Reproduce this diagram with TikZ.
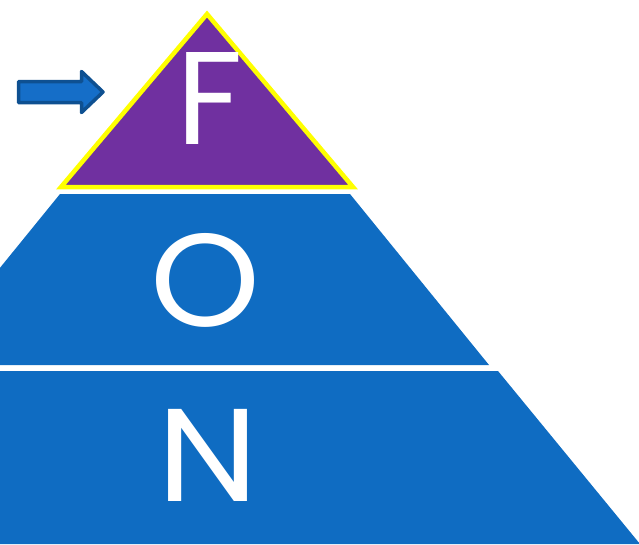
\documentclass[tikz,border=0pt]{standalone}
\usepackage{fontspec}
\newfontfamily\letterfont{Poppins}
\definecolor{layerblue}{RGB}{15, 108, 194}
\definecolor{toppurple}{RGB}{112, 48, 160}
\definecolor{edgeyellow}{RGB}{255, 255, 0}
\definecolor{arrowfill}{RGB}{21, 110, 200}
\definecolor{arrowedge}{RGB}{14, 80, 145}
\usetikzlibrary{positioning}

\begin{document}
\begin{tikzpicture}[
  x=1pt, y=-1pt,
  layer/.style={fill=layerblue, draw=none},
  toplayer/.style={fill=toppurple, draw=edgeyellow, line width=4.5pt, line join=miter},
  pointer/.style={fill=arrowfill, draw=arrowedge, line width=3.5pt, line join=round},
  letter/.style={text=white, font=\letterfont\fontsize{132}{132}\selectfont, inner sep=0pt, transform shape}
]
  \useasboundingbox (0,0) rectangle (639,544);
  \clip (0,0) rectangle (639,544);
  % layers
  \fill[layer] (-224,544) -- (-84,371) -- (498,371) -- (640,544) -- cycle;
  \fill[layer] (-79,365) -- (60,194) -- (350,194) -- (489,365) -- cycle;
  \draw[toplayer] (207,14) -- (353,187) -- (61,187) -- cycle;
  % arrow
  \draw[pointer] (18.5,81.5) -- (81.5,81.5) -- (81.5,71.5) -- (103,92)
    -- (81.5,112.5) -- (81.5,102.5) -- (18.5,102.5) -- cycle;
  % letters
  \node[letter] (f) at (210,98) {F};
  \node[letter, xscale=1.06] (o) at (205,280) {O};
  \node[letter, xscale=1.09] (n) at (208,455) {N};
\end{tikzpicture}
\end{document}
